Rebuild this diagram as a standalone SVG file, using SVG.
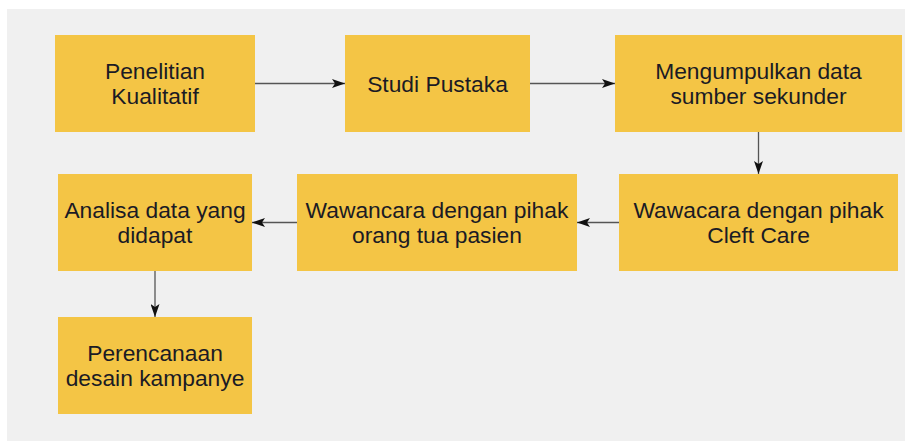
<svg xmlns="http://www.w3.org/2000/svg" width="905" height="441" viewBox="0 0 905 441">
<defs>
<style>
.box{fill:#f4c545;}
.t{font-family:"Liberation Sans",Arial,sans-serif;font-size:22.8px;fill:#1b1b24;text-anchor:middle;}
.c{stroke:#555555;stroke-width:1.3;fill:none;}
</style>
<marker id="ah" viewBox="0 0 13 9" refX="13" refY="4.5" markerWidth="13" markerHeight="9" markerUnits="userSpaceOnUse" orient="auto">
<path d="M0,0 L13,4.5 L0,9 L3,4.5 Z" fill="#111111"/>
</marker>
</defs>
<rect x="0" y="0" width="905" height="441" fill="#ffffff"/>
<rect x="7" y="9" width="898" height="432" fill="#f0f0f0"/>
<g id="connectors">
<line class="c" x1="255" y1="83.5" x2="345" y2="83.5" marker-end="url(#ah)"/>
<line class="c" x1="530" y1="83.5" x2="615" y2="83.5" marker-end="url(#ah)"/>
<line class="c" x1="758.5" y1="132" x2="758.5" y2="174" marker-end="url(#ah)"/>
<line class="c" x1="619" y1="222.5" x2="577" y2="222.5" marker-end="url(#ah)"/>
<line class="c" x1="297" y1="222.5" x2="252" y2="222.5" marker-end="url(#ah)"/>
<line class="c" x1="155" y1="271" x2="155" y2="317" marker-end="url(#ah)"/>
</g>
<g id="n1">
<rect class="box" x="55" y="35" width="200" height="97"/>
<text class="t" x="155" y="79">Penelitian</text>
<text class="t" x="155" y="104">Kualitatif</text>
</g>
<g id="n2">
<rect class="box" x="345" y="35" width="185" height="97"/>
<text class="t" x="437.5" y="91.5">Studi Pustaka</text>
</g>
<g id="n3">
<rect class="box" x="615" y="35" width="287" height="97"/>
<text class="t" x="758.5" y="79">Mengumpulkan data</text>
<text class="t" x="758.5" y="104">sumber sekunder</text>
</g>
<g id="n4">
<rect class="box" x="619" y="174" width="279" height="97"/>
<text class="t" x="758.5" y="218">Wawacara dengan pihak</text>
<text class="t" x="758.5" y="243">Cleft Care</text>
</g>
<g id="n5">
<rect class="box" x="297" y="174" width="280" height="97"/>
<text class="t" x="437" y="218">Wawancara dengan pihak</text>
<text class="t" x="437" y="243">orang tua pasien</text>
</g>
<g id="n6">
<rect class="box" x="58" y="174" width="194" height="97"/>
<text class="t" x="155" y="218">Analisa data yang</text>
<text class="t" x="155" y="243">didapat</text>
</g>
<g id="n7">
<rect class="box" x="58" y="317" width="194" height="97"/>
<text class="t" x="155" y="361">Perencanaan</text>
<text class="t" x="155" y="386">desain kampanye</text>
</g>
</svg>
